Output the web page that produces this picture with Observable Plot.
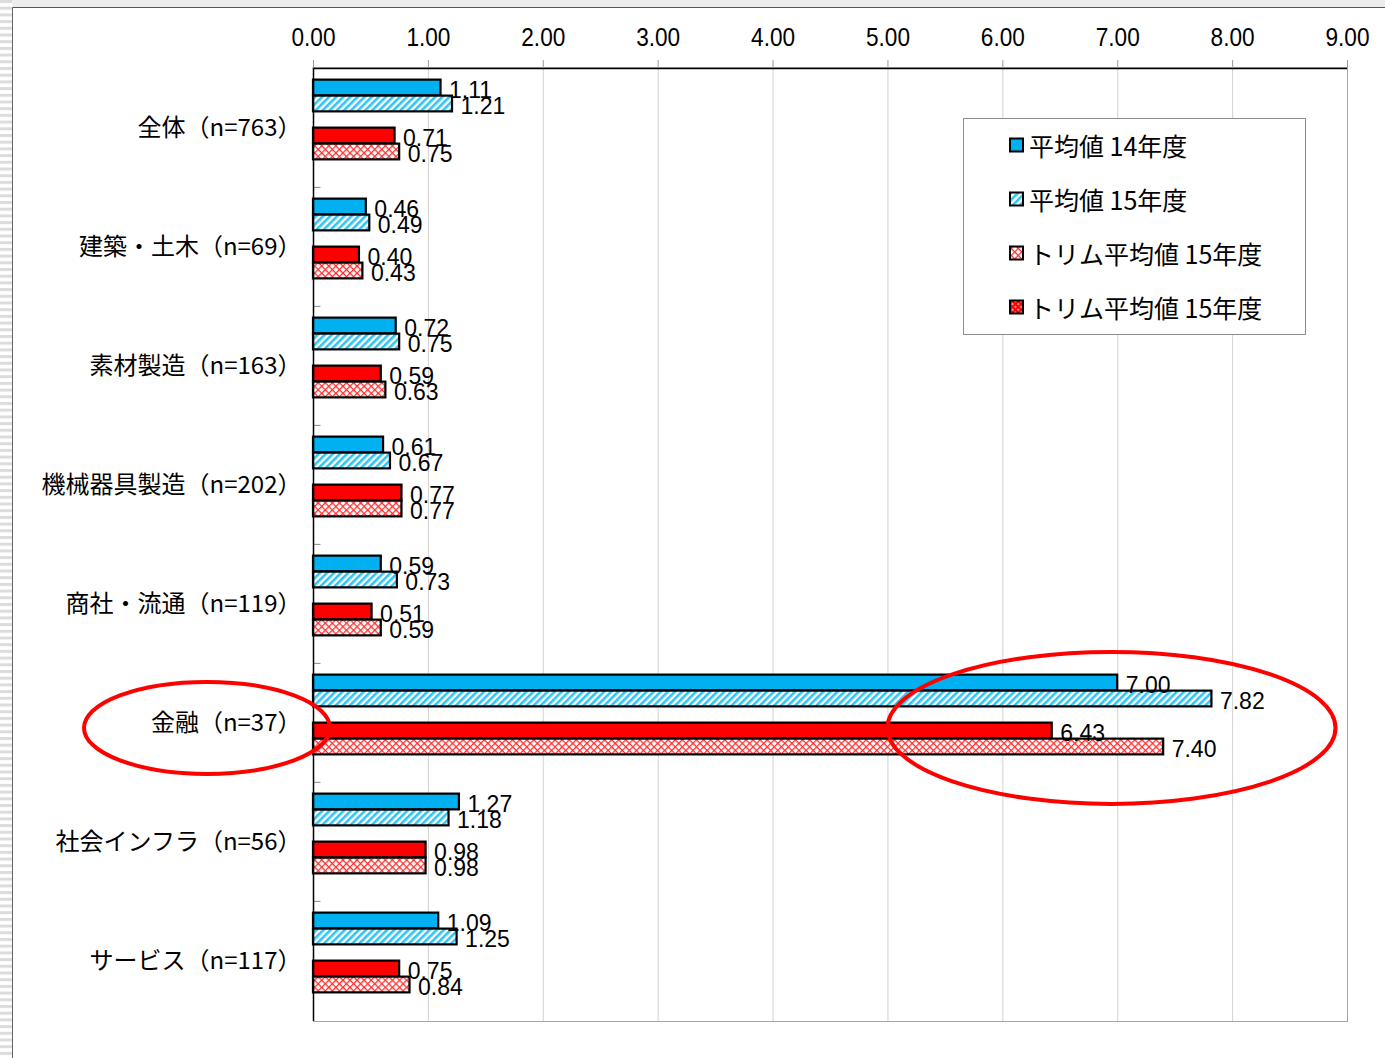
<!DOCTYPE html>
<html><head><meta charset="utf-8">
<script src="https://cdn.jsdelivr.net/npm/d3@7"></script>
<script src="https://cdn.jsdelivr.net/npm/@observablehq/plot@0.6"></script>
<style>body{margin:0;background:#fff;} #chart{width:1385px;height:1058px;}</style>
</head><body><div id="chart"></div>
<script>
// ---- data ----
const categories = ["全体（n=763）", "建築・土木（n=69）", "素材製造（n=163）", "機械器具製造（n=202）", "商社・流通（n=119）", "金融（n=37）", "社会インフラ（n=56）", "サービス（n=117）"];
const avg14  = [1.11, 0.46, 0.72, 0.61, 0.59, 7.00, 1.27, 1.09];
const avg15  = [1.21, 0.49, 0.75, 0.67, 0.73, 7.82, 1.18, 1.25];
const trim14 = [0.71, 0.40, 0.59, 0.77, 0.51, 6.43, 0.98, 0.75];
const trim15 = [0.75, 0.43, 0.63, 0.77, 0.59, 7.40, 0.98, 0.84];
const legendNames = ["平均値 14年度", "平均値 15年度", "トリム平均値 15年度", "トリム平均値 15年度"];
const xTicks = [0, 1, 2, 3, 4, 5, 6, 7, 8, 9];
const highlight = "金融（n=37）";

// ---- layout ----
const W = 1385, H = 1058, mL = 313, mR = 38, mT = 67, mB = 37;
const band = (H - mT - mB) / categories.length;
const slot = 16, pad = (band - 6 * slot) / 2;
const NARROW = "'Liberation Sans Narrow','Liberation Sans',Arial,sans-serif";
const CJK = "'Noto Sans CJK JP','Noto Sans',sans-serif";

const rows = vals => categories.map((c, i) => ({cat: c, v: vals[i]}));
const series = [
  {vals: avg14, s: 0, fill: "#00B0F0"},
  {vals: avg15, s: 1, fill: "url(#hatchBlue)"},
  {vals: trim14, s: 3, fill: "#FF0000"},
  {vals: trim15, s: 4, fill: "url(#crossPink)"}
];

const plot = Plot.plot({
  width: W, height: H,
  marginLeft: mL, marginRight: mR, marginTop: mT, marginBottom: mB,
  style: {fontFamily: CJK, background: "transparent", color: "#000"},
  x: {domain: [0, 9]},
  y: {domain: categories, paddingInner: 0, paddingOuter: 0},
  marks: [
    Plot.ruleX(xTicks.filter(d => d > 0 && d < 9), {stroke: "#d2d2d2", strokeWidth: 1}),
    ...series.map(o => Plot.barX(rows(o.vals), {
      x: "v", y: "cat", fill: o.fill, stroke: "#000", strokeWidth: 2.2,
      insetTop: pad + o.s * slot, insetBottom: band - pad - (o.s + 1) * slot
    })),
    ...series.map(o => Plot.text(rows(o.vals), {
      x: "v", y: "cat", text: d => d.v.toFixed(2),
      dy: pad + (o.s + 0.5) * slot - band / 2 + 2.5, dx: 8, textAnchor: "start",
      fontSize: 23, fontFamily: NARROW, fill: "#000"
    })),
    Plot.ruleY(categories.slice(1), {x1: 0, x2: 0.065, dy: -band / 2, stroke: "#888"}),
    Plot.frame({stroke: "#a6a6a6"}),
    Plot.ruleX([0], {stroke: "#000", strokeWidth: 1.5}),
    Plot.ruleY([categories[0]], {dy: -band / 2, stroke: "#000", strokeWidth: 1.5}),
    Plot.axisX(xTicks, {anchor: "top", tickSize: 8, tickPadding: 14, tickFormat: d3.format(".2f"),
      fontSize: 26, fontFamily: NARROW, stroke: "#999", fill: "#000", label: null}),
    Plot.axisY({tickSize: 0, tickPadding: 12, fontSize: 24, fontFamily: CJK, fill: "#000", label: null})
  ]
});

document.getElementById("chart").appendChild(plot);

const svg = d3.select(plot);

// condense tick labels horizontally (narrow face look)
function condense(sel, k) {
  sel.each(function () {
    const len = this.getComputedTextLength();
    if (len > 0) {
      this.setAttribute("textLength", (len * k).toFixed(2));
      this.setAttribute("lengthAdjust", "spacingAndGlyphs");
    }
  });
}
condense(svg.selectAll('g[aria-label="x-axis tick label"] text'), 0.87);

const defs = svg.insert("defs", ":first-child");
const hb = defs.append("pattern").attr("id", "hatchBlue").attr("patternUnits", "userSpaceOnUse")
  .attr("width", 5).attr("height", 5).attr("patternTransform", "rotate(45)");
hb.append("rect").attr("width", 5).attr("height", 5).attr("fill", "#fff");
hb.append("rect").attr("width", 2.6).attr("height", 5).attr("fill", "#2EC4F5");
const cp = defs.append("pattern").attr("id", "crossPink").attr("patternUnits", "userSpaceOnUse")
  .attr("width", 5).attr("height", 5).attr("patternTransform", "rotate(45)");
cp.append("rect").attr("width", 5).attr("height", 5).attr("fill", "#fff");
cp.append("rect").attr("width", 1.3).attr("height", 5).attr("fill", "#FF3030");
cp.append("rect").attr("width", 5).attr("height", 1.3).attr("fill", "#FF3030");
const cr = defs.append("pattern").attr("id", "crossRed").attr("patternUnits", "userSpaceOnUse")
  .attr("width", 4).attr("height", 4).attr("patternTransform", "rotate(45)");
cr.append("rect").attr("width", 4).attr("height", 4).attr("fill", "#FF9090");
cr.append("rect").attr("width", 2).attr("height", 4).attr("fill", "#FF0000");
cr.append("rect").attr("width", 4).attr("height", 2).attr("fill", "#FF0000");
const st = defs.append("pattern").attr("id", "stripes").attr("patternUnits", "userSpaceOnUse")
  .attr("width", 12).attr("height", 6.7);
st.append("rect").attr("width", 12).attr("height", 6.7).attr("fill", "#fff");
st.append("rect").attr("width", 12).attr("height", 3).attr("fill", "#dcdcdc");

// window frame decoration (behind the chart)
const deco = svg.insert("g", "defs + *");
deco.append("rect").attr("x", 0).attr("y", 0).attr("width", W).attr("height", 7).attr("fill", "#ececec");
deco.append("rect").attr("x", 0).attr("y", 0).attr("width", 12).attr("height", H).attr("fill", "url(#stripes)");
deco.append("line").attr("x1", 12.5).attr("x2", W).attr("y1", 7.5).attr("y2", 7.5).attr("stroke", "#555");
deco.append("line").attr("x1", 12.5).attr("x2", 12.5).attr("y1", 7.5).attr("y2", H).attr("stroke", "#666");

// scales
const xs = plot.scale("x"), ys = plot.scale("y");
const X = d3.scaleLinear(xs.domain, xs.range);
const Y = d3.scaleBand(ys.domain, ys.range).paddingInner(0).paddingOuter(0);
const cy = Y(highlight) + Y.bandwidth() / 2 + 5;

// legend
const lg = svg.append("g").attr("text-anchor", "start");
lg.append("rect").attr("x", 963.5).attr("y", 118.5).attr("width", 342).attr("height", 216)
  .attr("fill", "#fff").attr("stroke", "#8c8c8c");
const swFill = ["#00B0F0", "url(#hatchBlue)", "url(#crossPink)", "url(#crossRed)"];
legendNames.forEach((name, i) => {
  const yy = 145 + i * 54;
  lg.append("rect").attr("x", 1010).attr("y", yy - 6.5).attr("width", 13).attr("height", 13)
    .attr("fill", swFill[i]).attr("stroke", "#000").attr("stroke-width", 2);
  lg.append("text").attr("x", 1029).attr("y", yy).attr("dominant-baseline", "central")
    .attr("text-anchor", "start")
    .attr("font-size", 25).attr("font-family", CJK).attr("fill", "#000").text(name);
});

// annotation ellipses
const an = svg.append("g").attr("fill", "none").attr("stroke", "#FF0000").attr("stroke-width", 4);
an.append("ellipse").attr("cx", X(6.95)).attr("cy", cy).attr("rx", X(1.95) - X(0)).attr("ry", 76);
an.append("ellipse").attr("cx", X(0) - 106).attr("cy", cy).attr("rx", 123).attr("ry", 46);
</script></body></html>
